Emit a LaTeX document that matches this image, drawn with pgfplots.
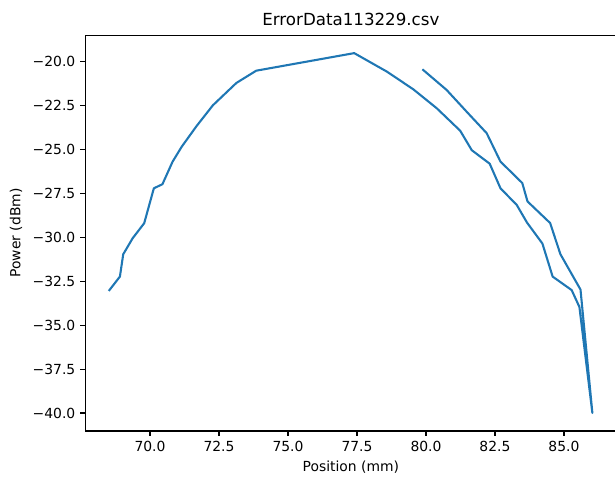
\documentclass[border=0pt]{standalone}
\usepackage{fontspec}
\setmainfont{DejaVu Sans}
\usepackage{pgfplots}
\pgfplotsset{compat=1.18}
\definecolor{mplblue}{HTML}{1F77B4}

\begin{document}
\begin{tikzpicture}
\begin{axis}[
  at={(0,0)}, anchor=south west,
  scale only axis, width=382.5pt, height=285pt,
  xmin=67.655, xmax=86.905,
  ymin=-41.025, ymax=-18.475,
  xtick={70,72.5,75,77.5,80,82.5,85},
  xticklabels={70.0,72.5,75.0,77.5,80.0,82.5,85.0},
  ytick={-40,-37.5,-35,-32.5,-30,-27.5,-25,-22.5,-20},
  yticklabels={−40.0,−37.5,−35.0,−32.5,−30.0,−27.5,−25.0,−22.5,−20.0},
  xtick pos=bottom, ytick pos=left,
  tick align=outside,
  major tick length=3.5pt,
  tick style={black, line width=0.8pt},
  axis line style={line width=0.8pt},
  ticklabel style={font=\fontsize{10}{12}\selectfont, inner sep=0pt},
  xticklabel style={anchor=base, yshift=-11.1pt},
  yticklabel style={anchor=east, xshift=-3.5pt},
  every axis title shift=0pt,
  title={ErrorData113229.csv},
  title style={font=\fontsize{12}{14}\selectfont, inner sep=0pt,
    at={(axis description cs:0.5,1)}, anchor=base, yshift=6.8pt},
  xlabel={Position (mm)},
  xlabel style={font=\fontsize{10}{12}\selectfont, inner sep=0pt,
    at={(axis description cs:0.5,0)}, anchor=base, yshift=-29.5pt},
  ylabel={Power (dBm)},
  ylabel style={font=\fontsize{10}{12}\selectfont, inner sep=0pt,
    at={(axis description cs:-0.122,0.5)}, anchor=base},
]
\addplot[mplblue, line width=1.5pt, line join=round, line cap=rect] coordinates {
  (68.53,-33.0) (68.91,-32.23) (69.03,-30.96) (69.37,-30.05) (69.79,-29.19)
  (70.14,-27.2) (70.45,-26.97) (70.82,-25.68) (71.15,-24.83) (71.69,-23.65)
  (72.28,-22.47) (73.13,-21.2) (73.85,-20.5) (77.40,-19.5) (78.58,-20.55)
  (79.54,-21.56) (80.39,-22.64) (81.24,-23.92) (81.66,-25.03) (82.31,-25.8)
  (82.70,-27.2) (83.29,-28.15) (83.66,-29.15) (84.22,-30.35) (84.59,-32.23)
  (85.28,-33.0) (85.56,-33.96) (86.03,-40.0) (85.60,-32.97) (84.87,-30.95)
  (84.50,-29.18) (83.68,-27.95) (83.49,-26.9) (82.70,-25.68) (82.20,-24.06)
  (81.47,-22.83) (80.75,-21.6) (79.90,-20.46)
};
\end{axis}
\pgfresetboundingbox
\useasboundingbox (-61.4pt,-34.6pt) rectangle (381.4pt,310.3pt);
\end{tikzpicture}
\end{document}
